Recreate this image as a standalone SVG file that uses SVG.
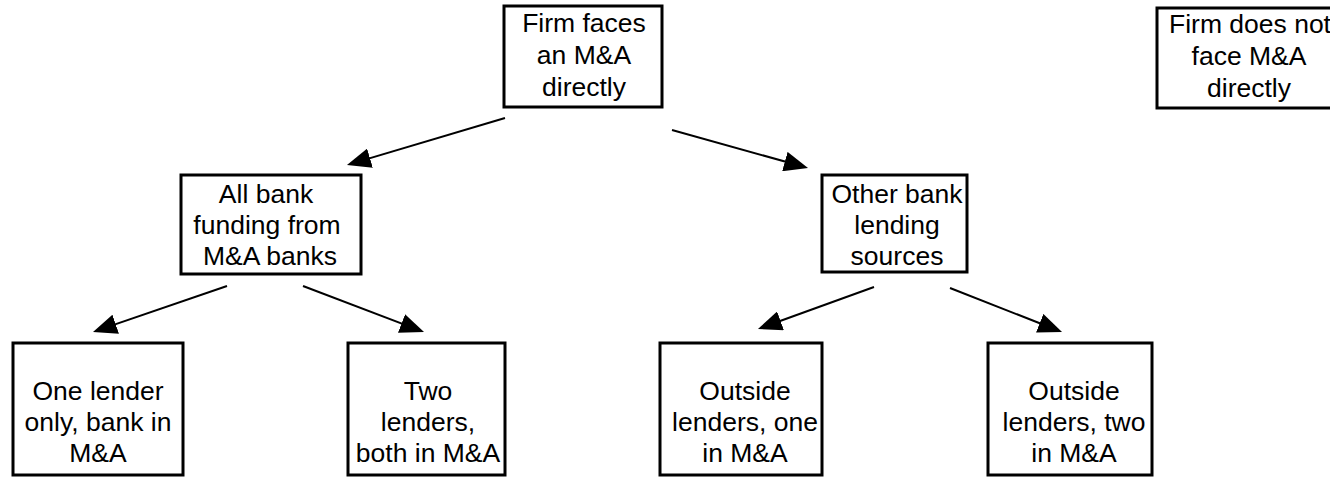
<svg xmlns="http://www.w3.org/2000/svg" width="1330" height="477" viewBox="0 0 1330 477">
<style>
.box{fill:#fff;stroke:#000;stroke-width:3}
.t{font-family:"Liberation Sans",Arial,sans-serif;font-size:26.5px;fill:#000;text-anchor:middle}
.c{stroke:#000;stroke-width:2;fill:none;marker-end:url(#ah)}
</style>
<defs>
<marker id="ah" viewBox="0 0 24 20" refX="13" refY="10" markerWidth="24" markerHeight="20" markerUnits="userSpaceOnUse" orient="auto">
<path d="M0,0 L24,10 L0,20 z" fill="#000"/>
</marker>
</defs>
<rect width="1330" height="477" fill="#fff"/>
<g id="connectors">
<line class="c" x1="505" y1="118" x2="357.5" y2="161.9"/>
<line class="c" x1="672" y1="130" x2="797.4" y2="165.0"/>
<line class="c" x1="227" y1="286" x2="103.4" y2="328.4"/>
<line class="c" x1="303" y1="286" x2="413.7" y2="328.1"/>
<line class="c" x1="874" y1="287" x2="768.3" y2="325.3"/>
<line class="c" x1="950" y1="288" x2="1051.8" y2="328.0"/>
</g>
<g id="n-top">
<rect class="box" x="504" y="6" width="158" height="101"/>
<text class="t"><tspan x="584" y="32">Firm faces</tspan><tspan x="584" y="64">an M&amp;A</tspan><tspan x="584" y="96">directly</tspan></text>
</g>
<g id="n-topright">
<rect class="box" x="1157" y="8" width="190" height="100"/>
<text class="t"><tspan x="1250" y="33">Firm does not</tspan><tspan x="1249" y="65">face M&amp;A</tspan><tspan x="1249" y="97">directly</tspan></text>
</g>
<g id="n-allbank">
<rect class="box" x="181" y="175" width="180" height="99"/>
<text class="t"><tspan x="266" y="203">All bank</tspan><tspan x="267" y="234">funding from</tspan><tspan x="270" y="265">M&amp;A banks</tspan></text>
</g>
<g id="n-other">
<rect class="box" x="822" y="175" width="145" height="97"/>
<text class="t"><tspan x="897" y="203">Other bank</tspan><tspan x="897" y="234">lending</tspan><tspan x="897" y="265">sources</tspan></text>
</g>
<g id="n-one">
<rect class="box" x="13" y="343" width="170" height="132"/>
<text class="t"><tspan x="98" y="400">One lender</tspan><tspan x="98" y="431">only, bank in</tspan><tspan x="98" y="462">M&amp;A</tspan></text>
</g>
<g id="n-two">
<rect class="box" x="348" y="343" width="157" height="132"/>
<text class="t"><tspan x="428" y="400">Two</tspan><tspan x="428" y="431">lenders,</tspan><tspan x="428" y="462">both in M&amp;A</tspan></text>
</g>
<g id="n-out1">
<rect class="box" x="660" y="343" width="162" height="132"/>
<text class="t"><tspan x="745" y="400">Outside</tspan><tspan x="745" y="431">lenders, one</tspan><tspan x="745" y="462">in M&amp;A</tspan></text>
</g>
<g id="n-out2">
<rect class="box" x="988" y="343" width="164" height="132"/>
<text class="t"><tspan x="1074" y="400">Outside</tspan><tspan x="1074" y="431">lenders, two</tspan><tspan x="1074" y="462">in M&amp;A</tspan></text>
</g>
</svg>
